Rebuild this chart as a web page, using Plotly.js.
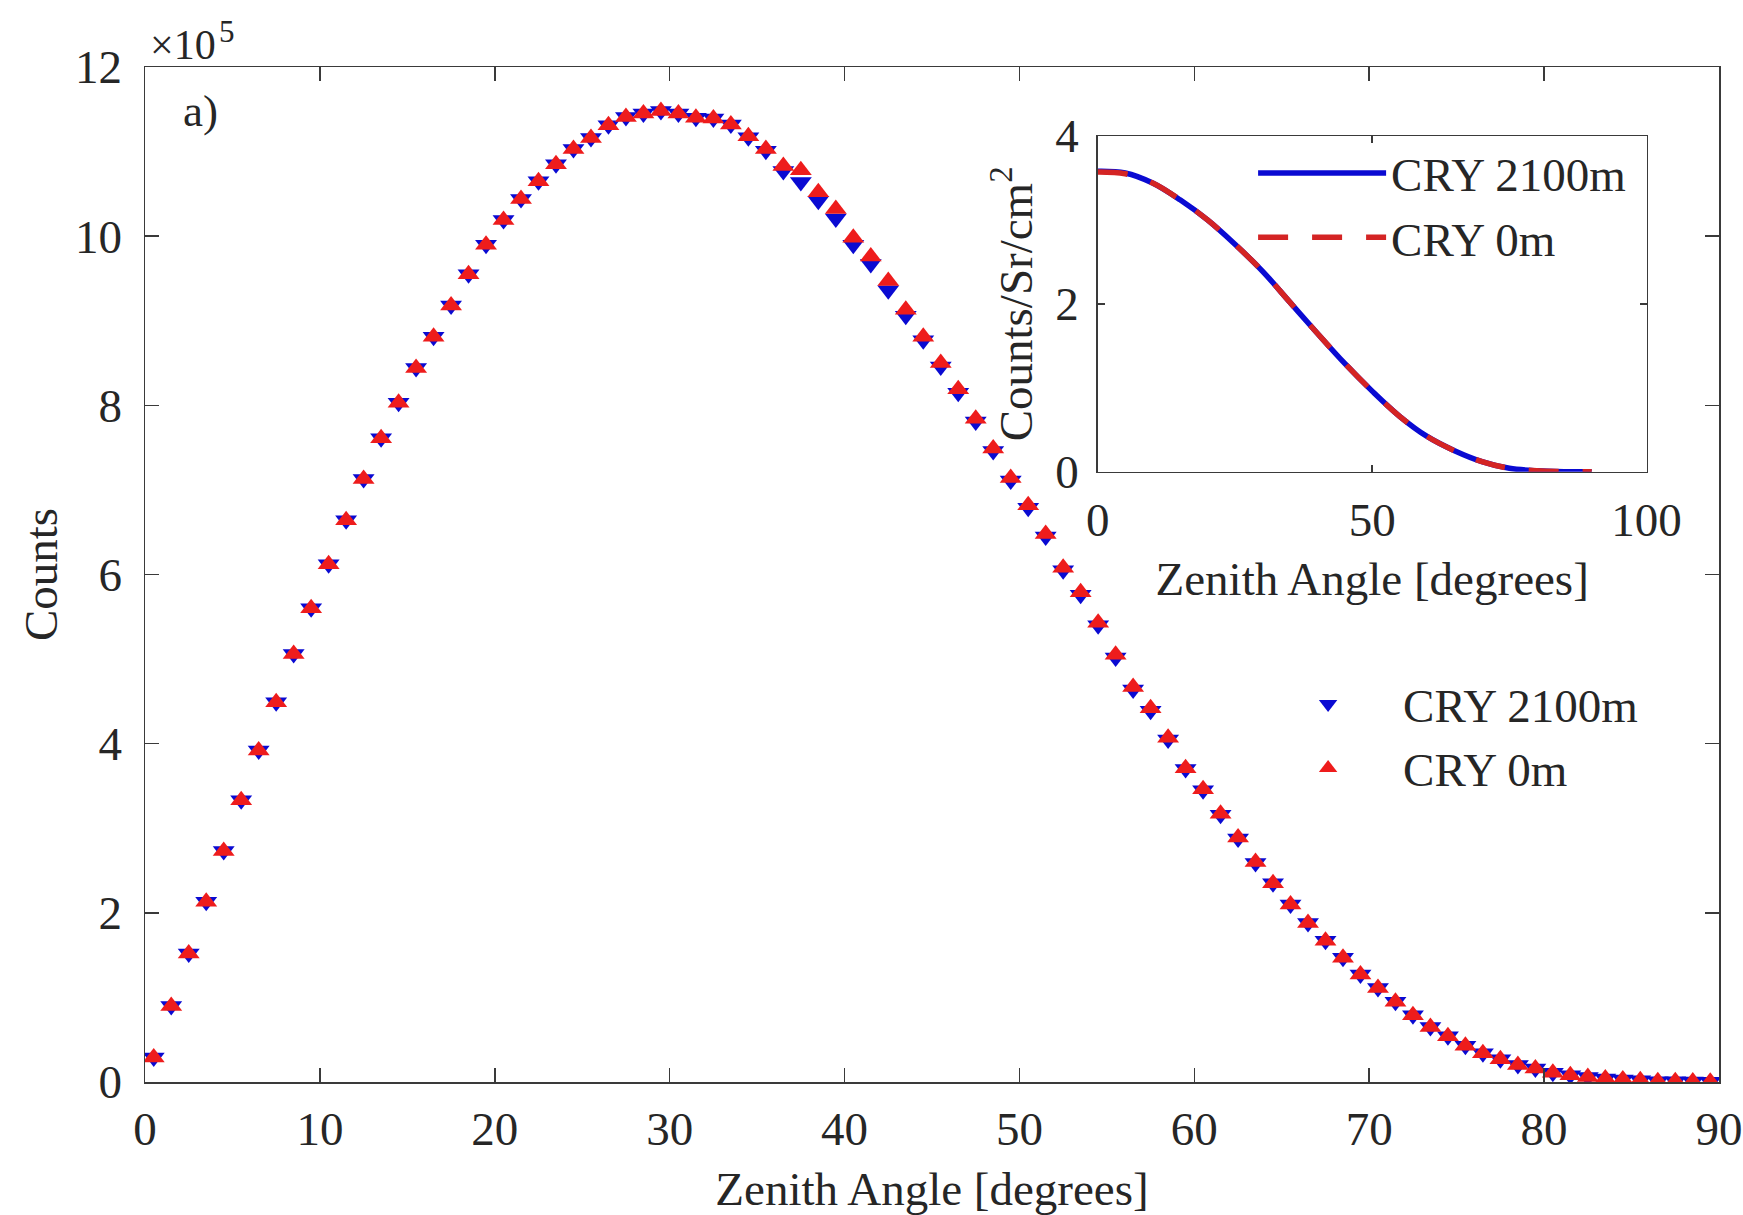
<!DOCTYPE html>
<html>
<head>
<meta charset="utf-8">
<script src="https://cdn.plot.ly/plotly-3.0.1.min.js"></script>
<style>
  html, body { margin: 0; padding: 0; background: #ffffff; }
  #chart { width: 1743px; height: 1215px; }
</style>
</head>
<body>
<div id="chart"></div>
<script>
// ---- Data (counts in units of 10^5) ----
const zenithAngle = [
  0.5, 1.5, 2.5, 3.5, 4.5, 5.5, 6.5, 7.5, 8.5, 9.5,
  10.5, 11.5, 12.5, 13.5, 14.5, 15.5, 16.5, 17.5, 18.5, 19.5,
  20.5, 21.5, 22.5, 23.5, 24.5, 25.5, 26.5, 27.5, 28.5, 29.5,
  30.5, 31.5, 32.5, 33.5, 34.5, 35.5, 36.5, 37.5, 38.5, 39.5,
  40.5, 41.5, 42.5, 43.5, 44.5, 45.5, 46.5, 47.5, 48.5, 49.5,
  50.5, 51.5, 52.5, 53.5, 54.5, 55.5, 56.5, 57.5, 58.5, 59.5,
  60.5, 61.5, 62.5, 63.5, 64.5, 65.5, 66.5, 67.5, 68.5, 69.5,
  70.5, 71.5, 72.5, 73.5, 74.5, 75.5, 76.5, 77.5, 78.5, 79.5,
  80.5, 81.5, 82.5, 83.5, 84.5, 85.5, 86.5, 87.5, 88.5, 89.5
];
const counts2100m = [
  0.29, 0.90, 1.52, 2.13, 2.73, 3.33, 3.92, 4.49, 5.06, 5.60,
  6.12, 6.64, 7.13, 7.61, 8.03, 8.44, 8.81, 9.18, 9.55, 9.90,
  10.19, 10.44, 10.65, 10.85, 11.03, 11.16, 11.31, 11.41, 11.45, 11.48,
  11.45, 11.40, 11.39, 11.32, 11.17, 11.01, 10.77, 10.64, 10.42, 10.21,
  9.90, 9.67, 9.36, 9.06, 8.77, 8.46, 8.15, 7.81, 7.46, 7.11,
  6.79, 6.45, 6.05, 5.76, 5.40, 5.02, 4.64, 4.39, 4.05, 3.70,
  3.45, 3.16, 2.88, 2.59, 2.35, 2.10, 1.88, 1.67, 1.47, 1.27,
  1.11, 0.95, 0.79, 0.65, 0.54, 0.43, 0.34, 0.27, 0.20, 0.16,
  0.11, 0.08, 0.06, 0.04, 0.03, 0.02, 0.01, 0.01, 0.005, 0.003
];
const counts0m = [
  0.29, 0.90, 1.52, 2.13, 2.73, 3.33, 3.92, 4.49, 5.06, 5.60,
  6.12, 6.64, 7.13, 7.61, 8.03, 8.44, 8.81, 9.18, 9.55, 9.90,
  10.19, 10.44, 10.65, 10.85, 11.03, 11.16, 11.31, 11.41, 11.45, 11.48,
  11.45, 11.40, 11.39, 11.32, 11.18, 11.03, 10.83, 10.78, 10.52, 10.32,
  9.98, 9.76, 9.47, 9.13, 8.81, 8.50, 8.19, 7.84, 7.49, 7.14,
  6.82, 6.48, 6.08, 5.79, 5.43, 5.05, 4.67, 4.42, 4.07, 3.71,
  3.46, 3.17, 2.89, 2.60, 2.35, 2.10, 1.88, 1.67, 1.47, 1.27,
  1.11, 0.95, 0.79, 0.65, 0.54, 0.43, 0.34, 0.27, 0.20, 0.16,
  0.11, 0.08, 0.06, 0.04, 0.03, 0.02, 0.01, 0.01, 0.005, 0.003
];

// Inset: Counts/Sr/cm^2 vs zenith angle
const insetAngle = [0, 5, 10, 15, 20, 25, 30, 35, 40, 45, 50, 55, 60, 65, 70, 75, 80, 85, 90];
const insetFlux2100m = [3.58, 3.56, 3.44, 3.24, 3.00, 2.71, 2.39, 2.02, 1.65, 1.29, 0.96, 0.66, 0.42, 0.25, 0.12, 0.04, 0.01, 0.0, 0.0];
const insetFlux0m    = [3.57, 3.55, 3.44, 3.24, 3.00, 2.71, 2.39, 2.02, 1.65, 1.29, 0.96, 0.66, 0.42, 0.25, 0.12, 0.04, 0.01, 0.0, 0.0];

const seriesNames = ['CRY 2100m', 'CRY 0m'];
const mainXTicks = [0, 10, 20, 30, 40, 50, 60, 70, 80, 90];
const mainYTicks = [0, 2, 4, 6, 8, 10, 12];
const insetXTicks = [0, 50, 100];
const insetYTicks = [0, 2, 4];

const BLUE = '#0a0ad2';
const RED = '#ee1c1c';
const TXT = '#262626';
const FONT = 'Liberation Serif, Times New Roman, serif';
const FS = 47;

const traces = [
  {
    x: zenithAngle, y: counts2100m, name: seriesNames[0],
    type: 'scatter', mode: 'markers',
    marker: { symbol: 'triangle-down', size: 19, color: BLUE },
    xaxis: 'x', yaxis: 'y', legend: 'legend'
  },
  {
    x: zenithAngle, y: counts0m, name: seriesNames[1],
    type: 'scatter', mode: 'markers',
    marker: { symbol: 'triangle-up', size: 19, color: RED },
    xaxis: 'x', yaxis: 'y', legend: 'legend'
  },
  {
    x: insetAngle, y: insetFlux2100m, name: seriesNames[0],
    type: 'scatter', mode: 'lines',
    line: { color: BLUE, width: 5.5, shape: 'spline' },
    xaxis: 'x2', yaxis: 'y2', legend: 'legend2'
  },
  {
    x: insetAngle, y: insetFlux0m, name: seriesNames[1],
    type: 'scatter', mode: 'lines',
    line: { color: '#d42424', width: 5.5, dash: '30px,24px', shape: 'spline' },
    xaxis: 'x2', yaxis: 'y2', legend: 'legend2'
  }
];

const axisCommon = {
  showgrid: false, zeroline: false, showline: true,
  linecolor: '#3a3a3a', linewidth: 1.5,
  ticks: 'inside', mirror: 'ticks', tickcolor: '#3a3a3a', tickwidth: 1.5,
  tickfont: { family: FONT, size: FS, color: TXT },
  fixedrange: true
};

const layout = {
  width: 1743, height: 1215,
  margin: { l: 145, r: 24, t: 67, b: 133 },
  paper_bgcolor: '#ffffff', plot_bgcolor: '#ffffff',
  font: { family: FONT, size: FS, color: TXT },
  showlegend: true,
  xaxis: Object.assign({}, axisCommon, {
    range: [0, 90], tickmode: 'array', tickvals: mainXTicks, ticktext: mainXTicks.map(String),
    ticklen: 14, ticklabelstandoff: 5, domain: [0, 1], anchor: 'y',
    title: { text: 'Zenith Angle [degrees]', font: { family: FONT, size: FS, color: TXT }, standoff: 18 }
  }),
  yaxis: Object.assign({}, axisCommon, {
    range: [0, 12], tickmode: 'array', tickvals: mainYTicks, ticktext: mainYTicks.map(String),
    ticklen: 14, ticklabelstandoff: 12, domain: [0, 1], anchor: 'x',
    title: { text: 'Counts', font: { family: FONT, size: FS, color: TXT }, standoff: 2 }
  }),
  xaxis2: Object.assign({}, axisCommon, {
    range: [0, 100], tickmode: 'array', tickvals: insetXTicks, ticktext: insetXTicks.map(String),
    ticklen: 7, ticklabelstandoff: 6, domain: [0.6053, 0.954], anchor: 'y2',
    title: { text: 'Zenith Angle [degrees]', font: { family: FONT, size: FS, color: TXT }, standoff: 17 }
  }),
  yaxis2: Object.assign({}, axisCommon, {
    range: [0, 4], tickmode: 'array', tickvals: insetYTicks, ticktext: insetYTicks.map(String),
    ticklen: 7, ticklabelstandoff: 8, domain: [0.6013, 0.932], anchor: 'x2',
    title: { text: 'Counts/Sr/cm<sup>2</sup>', font: { family: FONT, size: FS, color: TXT }, standoff: 8 }
  }),
  legend: {
    x: 0.704, y: 0.409, xanchor: 'left', yanchor: 'top',
    bgcolor: 'rgba(0,0,0,0)', borderwidth: 0, itemwidth: 140,
    font: { family: FONT, size: FS, color: TXT }, tracegroupgap: 0
  },
  legend2: {
    x: 0.704, y: 0.932, xanchor: 'left', yanchor: 'top',
    bgcolor: 'rgba(0,0,0,0)', borderwidth: 0, itemwidth: 128,
    font: { family: FONT, size: FS, color: TXT }, tracegroupgap: 0
  },
  annotations: [
    { text: 'a)', xref: 'paper', yref: 'paper', x: 0.035, y: 0.957,
      xanchor: 'center', yanchor: 'middle', showarrow: false,
      font: { family: FONT, size: 45, color: TXT } },
    { text: '×10', xref: 'paper', yref: 'paper', x: 0.002, y: 0.997,
      xanchor: 'left', yanchor: 'bottom', showarrow: false,
      font: { family: FONT, size: 42, color: TXT } },
    { text: '5', xref: 'paper', yref: 'paper', x: 0.046, y: 1.016,
      xanchor: 'left', yanchor: 'bottom', showarrow: false,
      font: { family: FONT, size: 31, color: TXT } }
  ]
};

Plotly.newPlot('chart', traces, layout, { displayModeBar: false, staticPlot: true });
</script>
</body>
</html>
